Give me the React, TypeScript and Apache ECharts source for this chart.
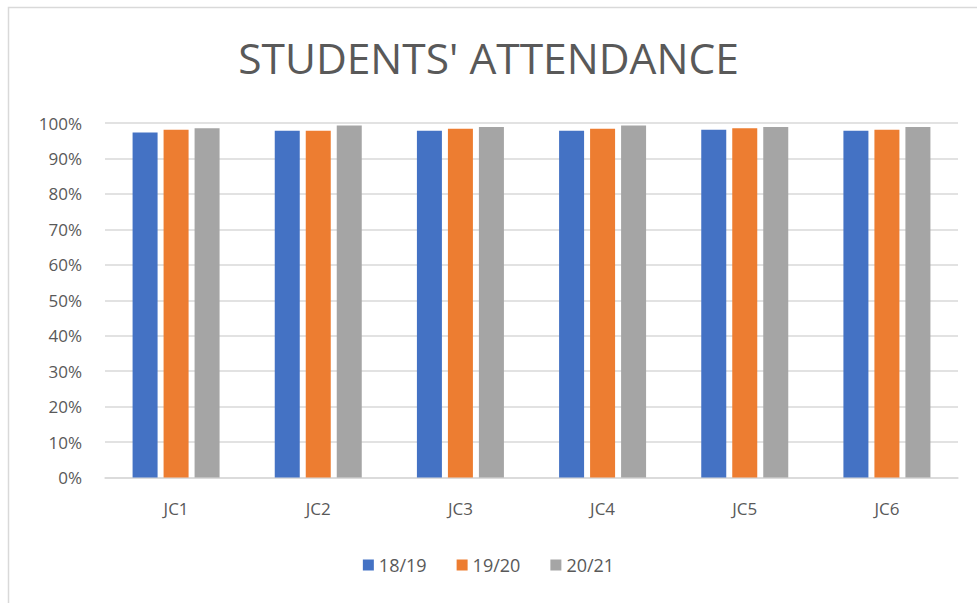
import React, { useEffect, useRef } from "react";
import * as echarts from "echarts";

const categories = ["JC1", "JC2", "JC3", "JC4", "JC5", "JC6"];
const seriesNames = ["18/19", "19/20", "20/21"];
const s1819 = [0.973, 0.978, 0.978, 0.978, 0.981, 0.978];
const s1920 = [0.981, 0.978, 0.984, 0.984, 0.985, 0.981];
const s2021 = [0.985, 0.993, 0.989, 0.993, 0.989, 0.989];
const colors = ["#4472C4", "#ED7D31", "#A5A5A5"];

export default function App() {
  const ref = useRef<HTMLDivElement>(null);
  useEffect(() => {
    document.body.style.margin = "0";
    const chart = echarts.init(ref.current!, null, { renderer: "svg" });
    const data = [s1819, s1920, s2021];
    chart.setOption({
      animation: false,
      backgroundColor: "#ffffff",
      textStyle: { fontFamily: "'Open Sans', sans-serif" },
      title: {
        text: "STUDENTS' ATTENDANCE",
        left: "center",
        top: 31,
        textStyle: {
          fontSize: 42.5,
          fontWeight: 400,
          color: "#595959",
          fontFamily: "'Open Sans', sans-serif",
        },
      },
      graphic: [
        {
          type: "rect",
          shape: { x: 8.5, y: 7.5, width: 1200, height: 1200 },
          style: { fill: "none", stroke: "#d9d9d9", lineWidth: 1.5 },
          silent: true,
        },
      ],
      legend: {
        data: seriesNames,
        bottom: 24,
        left: "center",
        itemWidth: 11,
        itemHeight: 11,
        itemGap: 30,
        icon: "rect",
        textStyle: { fontSize: 18, color: "#595959" },
      },
      grid: { left: 105, right: 19, top: 123, bottom: 125.5 },
      xAxis: {
        type: "category",
        data: categories,
        axisTick: { show: false },
        axisLine: { lineStyle: { color: "#d9d9d9", width: 1.5 } },
        axisLabel: { fontSize: 17, color: "#595959", margin: 22 },
      },
      yAxis: {
        type: "value",
        min: 0,
        max: 1,
        interval: 0.1,
        axisLabel: {
          fontSize: 17,
          color: "#595959",
          margin: 23,
          formatter: (v: number) => Math.round(v * 100) + "%",
        },
        splitLine: { lineStyle: { color: "#d9d9d9", width: 1.5 } },
        axisLine: { show: false },
        axisTick: { show: false },
      },
      series: seriesNames.map((n, i) => ({
        name: n,
        type: "bar",
        data: data[i],
        barWidth: 25,
        barGap: "24%",
        itemStyle: { color: colors[i] },
      })),
    });
    return () => chart.dispose();
  }, []);
  return <div ref={ref} style={{ width: 977, height: 603 }} />;
}
